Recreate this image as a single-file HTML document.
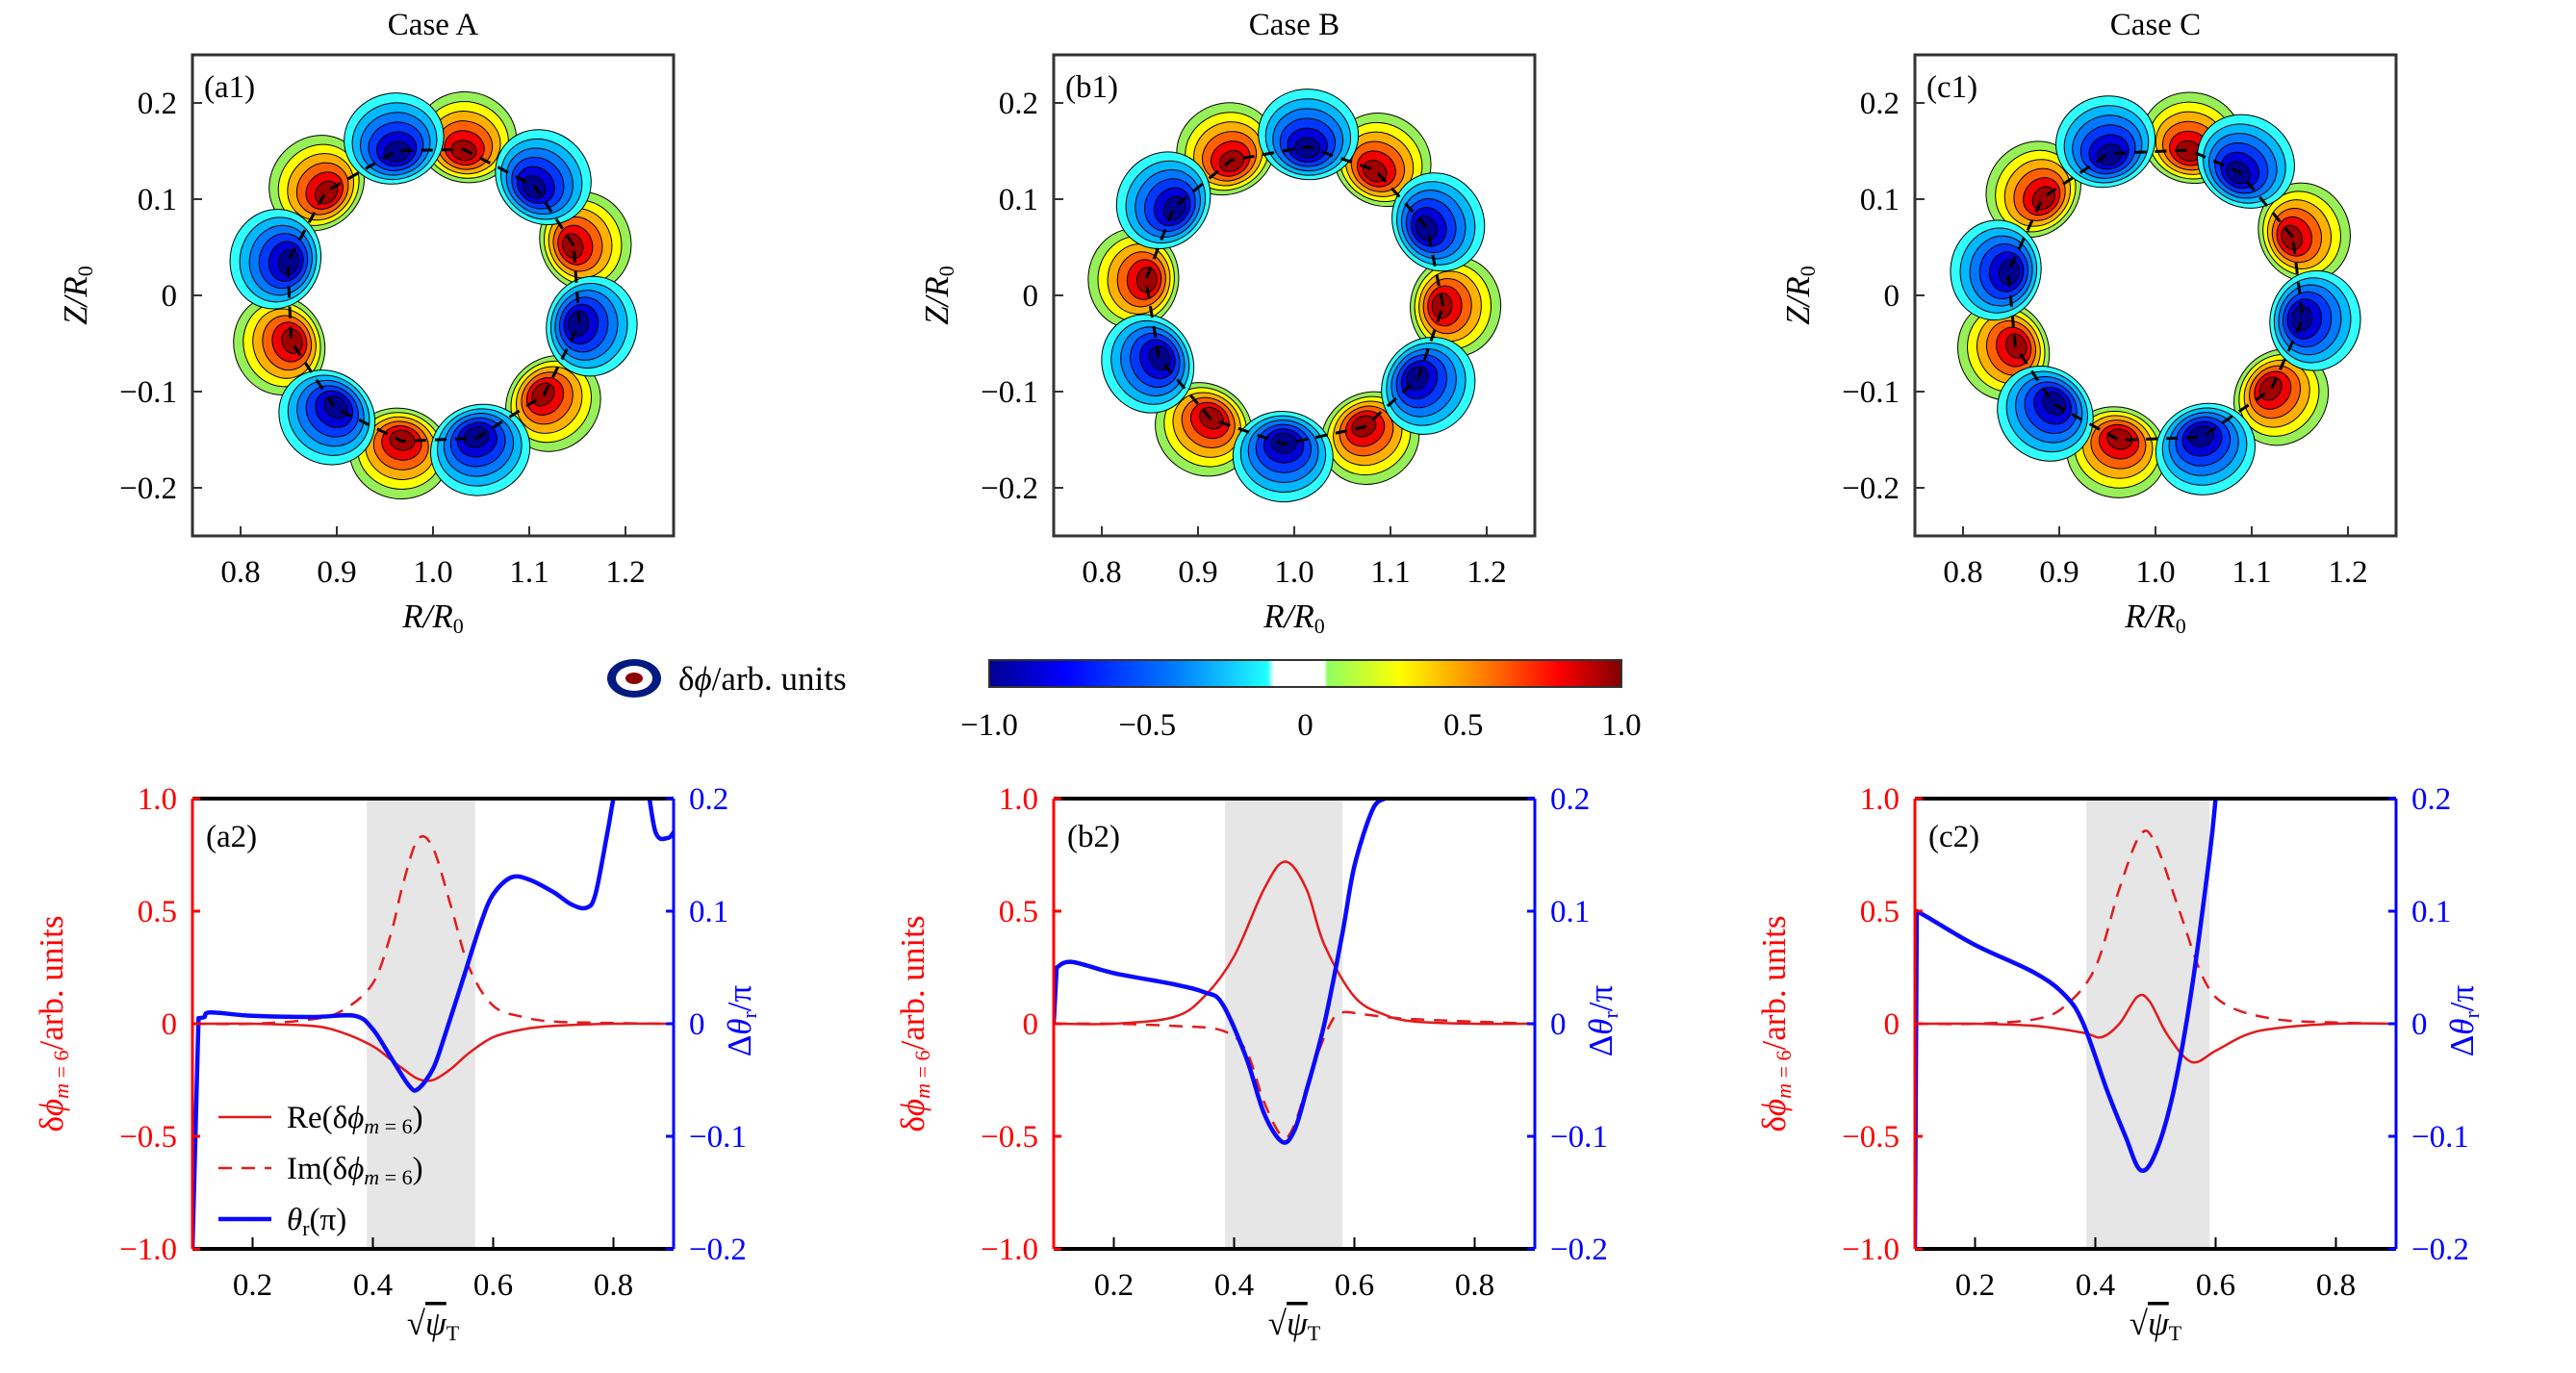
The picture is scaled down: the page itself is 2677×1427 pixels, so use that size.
<!DOCTYPE html>
<html><head><meta charset="utf-8"><style>
html,body{margin:0;padding:0;background:#fff}
svg{display:block}
text{font-family:"Liberation Serif",serif}
</style></head><body>
<svg id="fig" width="2677" height="1427" viewBox="0 0 2677 1427" xmlns="http://www.w3.org/2000/svg">
<defs>
<linearGradient id="jet" x1="0" x2="1" y1="0" y2="0">
<stop offset="0" stop-color="#00008f"/><stop offset="0.12" stop-color="#0000ff"/>
<stop offset="0.3" stop-color="#0080ff"/><stop offset="0.44" stop-color="#20ffff"/>
<stop offset="0.45" stop-color="#ffffff"/><stop offset="0.53" stop-color="#ffffff"/>
<stop offset="0.535" stop-color="#90ff60"/><stop offset="0.65" stop-color="#ffff00"/>
<stop offset="0.78" stop-color="#ff8000"/><stop offset="0.9" stop-color="#ff0000"/>
<stop offset="1" stop-color="#800000"/></linearGradient>
</defs>
</svg>
<script>
// ---- data ----
const caseTitles = ["Case A","Case B","Case C"];
const topLabels = ["(a1)","(b1)","(c1)"];
const botLabels = ["(a2)","(b2)","(c2)"];
const redAnglesA = [19.5,78,136,198,258,318];
const redAnglesB = [-4,57,115,174,236,298];
const redAnglesC = [23,77,139,200,256,321];
const blueAnglesA = [47,104,167,229,287,349];
const blueAnglesB = [27,85,144,205,266,326];
const blueAnglesC = [56,108,171,227,288,351];
const xTicksTop = [0.8,0.9,1.0,1.1,1.2];
const yTicksTop = [0.2,0.1,0,-0.1,-0.2];
const xTicksBot = [0.2,0.4,0.6,0.8];
const yTicksLeft = [1.0,0.5,0,-0.5,-1.0];
const yTicksRight = [0.2,0.1,0,-0.1,-0.2];
const cbTicks = [-1.0,-0.5,0,0.5,1.0];
const shadeA = [0.39,0.57], shadeB = [0.385,0.58], shadeC = [0.385,0.59];
const xA  = [0.1,0.2,0.3,0.35,0.4,0.43,0.45,0.475,0.5,0.53,0.56,0.6,0.65,0.7,0.8,0.9];
const reA = [0,0,-0.01,-0.04,-0.1,-0.16,-0.2,-0.245,-0.25,-0.2,-0.13,-0.06,-0.025,-0.01,0,0];
const imA = [0,0,0.02,0.06,0.18,0.4,0.62,0.82,0.78,0.52,0.25,0.08,0.03,0.01,0.003,0];
const thXA = [0.1,0.11,0.12,0.13,0.2,0.3,0.37,0.4,0.43,0.46,0.475,0.5,0.52,0.55,0.58,0.6,0.63,0.66,0.7,0.73,0.755,0.77,0.79,0.8,0.81,0.85,0.87,0.89,0.9];
const thA = [-0.2,0.005,0.006,0.01,0.007,0.006,0.007,-0.005,-0.03,-0.055,-0.058,-0.04,-0.01,0.04,0.09,0.115,0.13,0.128,0.117,0.106,0.103,0.115,0.17,0.2,0.22,0.22,0.17,0.165,0.17];
const xB  = [0.1,0.2,0.3,0.35,0.4,0.45,0.485,0.52,0.55,0.6,0.65,0.7,0.8,0.9];
const reB = [0,0,0.03,0.12,0.3,0.6,0.72,0.6,0.35,0.12,0.04,0.01,0,0];
const xB2 = [0.1,0.2,0.3,0.38,0.42,0.45,0.48,0.5,0.53,0.56,0.58,0.62,0.7,0.9];
const imB = [0,0,-0.01,-0.03,-0.12,-0.35,-0.5,-0.45,-0.2,0,0.05,0.04,0.02,0];
const thXB = [0.1,0.105,0.13,0.2,0.3,0.35,0.38,0.42,0.45,0.48,0.5,0.52,0.55,0.58,0.6,0.63,0.65];
const thB = [0,0.05,0.055,0.045,0.035,0.028,0.018,-0.03,-0.08,-0.105,-0.095,-0.06,0,0.08,0.14,0.19,0.2];
const xC  = [0.1,0.2,0.3,0.38,0.41,0.44,0.47,0.49,0.52,0.56,0.6,0.65,0.7,0.8,0.9];
const reC = [0,0,-0.01,-0.04,-0.06,0,0.12,0.1,-0.05,-0.17,-0.12,-0.05,-0.02,0,0];
const xC2 = [0.1,0.2,0.3,0.35,0.4,0.44,0.475,0.5,0.54,0.58,0.62,0.7,0.8,0.9];
const imC = [0,0,0.02,0.08,0.25,0.6,0.84,0.8,0.5,0.2,0.08,0.02,0.005,0];
const thXC = [0.1,0.103,0.12,0.2,0.3,0.35,0.38,0.42,0.45,0.475,0.5,0.53,0.56,0.59,0.6];
const thC = [-0.2,0.1,0.095,0.07,0.045,0.025,0,-0.06,-0.1,-0.13,-0.115,-0.06,0.03,0.15,0.2];

const NS="http://www.w3.org/2000/svg";
const svg=document.getElementById('fig');
function mk(tag,attrs,parent){const e=document.createElementNS(NS,tag);for(const k in attrs)e.setAttribute(k,attrs[k]);(parent||svg).appendChild(e);return e;}
function fmt(v,d){const s=v===0?"0":v.toFixed(d);return s.replace('-','\u2212');}
// first segment straight (vertical jump at the axis), rest Catmull-Rom
function smooth(pts,straightFirst){
  let d='M'+pts[0][0].toFixed(1)+' '+pts[0][1].toFixed(1);
  let start=0;
  if(straightFirst){d+='L'+pts[1][0].toFixed(1)+' '+pts[1][1].toFixed(1);start=1;}
  for(let i=start;i<pts.length-1;i++){
    const p0=pts[Math.max(i-1,start)],p1=pts[i],p2=pts[i+1],p3=pts[Math.min(i+2,pts.length-1)];
    const c1=[p1[0]+(p2[0]-p0[0])/6,p1[1]+(p2[1]-p0[1])/6],c2=[p2[0]-(p3[0]-p1[0])/6,p2[1]-(p3[1]-p1[1])/6];
    d+=`C${c1[0].toFixed(1)} ${c1[1].toFixed(1)} ${c2[0].toFixed(1)} ${c2[1].toFixed(1)} ${p2[0].toFixed(1)} ${p2[1].toFixed(1)}`;
  }
  return d;
}

const lefts=[200,1095,1990];
const FS=33;
const redSets=[redAnglesA,redAnglesB,redAnglesC], blueSets=[blueAnglesA,blueAnglesB,blueAnglesC];
const redCols=["#98f058","#ffff00","#ffb000","#ff6000","#f00000","#a00000"];
const blueCols=["#30ffff","#00b8ff","#0078ff","#0038ff","#0000d8","#00008f"];

// ---- top panels ----
for(let p=0;p<3;p++){
  const L=lefts[p],T=57,W=500;
  const px=r=>L+(r-0.75)*1000, py=z=>T+(0.25-z)*1000;
  const g=mk('g',{});
  
  
  const t=mk('text',{x:L+250,y:36,'font-size':FS,'text-anchor':'middle'},g);t.textContent=caseTitles[p];
  
  
  const lobes=[];
  redSets[p].forEach(a=>lobes.push([a,redCols]));
  blueSets[p].forEach(a=>lobes.push([a,blueCols]));
  const peaks=[];
  lobes.forEach(([a,cols])=>{
    const rad=a*Math.PI/180;
    const lg=mk('g',{},g);
    
    
    for(let i=0;i<6;i++){
      const f=i/5;
      const u=0.168-0.014*f, au=0.047*(1-0.78*f), av=0.052*(1-0.75*f);
      const cx=px(1+u*Math.cos(rad)), cy=py(u*Math.sin(rad));
      const el=mk('ellipse',{cx:cx,cy:cy,rx:au*1000,ry:av*1000,fill:cols[i],stroke:'#000','stroke-width':1,transform:`rotate(${-a} ${cx} ${cy})`},lg);
      
      
    }
    peaks.push([a,0.155]);
  });
  peaks.sort((x,y)=>x[0]-y[0]);
  let d='';peaks.concat([peaks[0]]).forEach((q,i)=>{const r=q[0]*Math.PI/180;d+=(i?'L':'M')+px(1+q[1]*Math.cos(r))+' '+py(q[1]*Math.sin(r));});
  const dl=mk('path',{d:d,fill:'none',stroke:'#000','stroke-width':3,'stroke-dasharray':'12 9'},g);
  
  
  const box=mk('rect',{x:L,y:T,width:W,height:W,fill:'none',stroke:'#333','stroke-width':3},g);
  
  
  xTicksTop.forEach(v=>{mk('line',{x1:px(v),x2:px(v),y1:T+W,y2:T+W-10,stroke:'#333','stroke-width':2},g);
    const tx=mk('text',{x:px(v),y:T+W+48,'font-size':FS,'text-anchor':'middle'},g);tx.textContent=v.toFixed(1);
    
    });
  yTicksTop.forEach(v=>{mk('line',{x1:L,x2:L+10,y1:py(v),y2:py(v),stroke:'#333','stroke-width':2},g);
    const tx=mk('text',{x:L-16,y:py(v)+11,'font-size':FS,'text-anchor':'end'},g);tx.textContent=fmt(v,1);
    
    });
  const pl=mk('text',{x:L+12,y:T+44,'font-size':FS},g);pl.textContent=topLabels[p];
  
  
  const xl=mk('text',{x:L+250,y:652,'font-size':FS+2,'text-anchor':'middle','font-style':'italic'},g);
  xl.innerHTML='R/R<tspan font-style="normal" font-size="22" dy="6">0</tspan>';
  
  
  const yl=mk('text',{x:0,y:0,'font-size':FS+2,'text-anchor':'middle','font-style':'italic',transform:`translate(${L-110},${py(0)}) rotate(-90)`},g);
  yl.innerHTML='Z/R<tspan font-style="normal" font-size="22" dy="6">0</tspan>';
  
  
}

// ---- colorbar ----
const cbg=mk('g',{});


const CL=1028,CW=657,CT=686,CH=28;
mk('rect',{x:CL,y:CT,width:CW,height:CH,fill:'url(#jet)',stroke:'#333','stroke-width':2},cbg);
cbTicks.forEach(v=>{const x=CL+(v+1)/2*CW;
  const tx=mk('text',{x:x,y:764,'font-size':FS,'text-anchor':'middle'},cbg);tx.textContent=fmt(v,1);
  
  });
const icon=mk('g',{},cbg);


mk('ellipse',{cx:659,cy:705,rx:28,ry:20,fill:'#001a80'},icon);
mk('ellipse',{cx:659,cy:705,rx:19,ry:13,fill:'#fff'},icon);
mk('ellipse',{cx:659,cy:705,rx:9,ry:6,fill:'#8b0000'},icon);
const cbl=mk('text',{x:705,y:717,'font-size':FS+2},cbg);
cbl.innerHTML='δ<tspan font-style="italic">ϕ</tspan>/arb. units';



// ---- bottom panels ----
const bx=[[xA,reA,xA,imA,thXA,thA,shadeA],[xB,reB,xB2,imB,thXB,thB,shadeB],[xC,reC,xC2,imC,thXC,thC,shadeC]];
for(let p=0;p<3;p++){
  const L=lefts[p],T=830,W=500,H=468;
  const sx=x=>L+(x-0.1)/0.8*W, syL=v=>T+(1-v)/2*H, syR=v=>T+(0.2-v)/0.4*H;
  const [x1,re,x2,im,xt,th,sh]=bx[p];
  const g=mk('g',{});
  
  
  const cid='clip'+p;
  const cp=mk('clipPath',{id:cid},g);mk('rect',{x:L,y:T,width:W,height:H},cp);
  const s=mk('rect',{x:sx(sh[0]),y:T,width:sx(sh[1])-sx(sh[0]),height:H,fill:'#e6e6e6'},g);
  
  
  const line=(xs,ys,sy,col,w,dash,name,sf)=>{
    const d=smooth(xs.map((x,i)=>[sx(x),sy(ys[i])]),sf);
    const e=mk('path',{d:d,fill:'none',stroke:col,'stroke-width':w,'stroke-linejoin':'round','clip-path':`url(#${cid})`},g);
    if(dash)e.setAttribute('stroke-dasharray',dash);
    
    
  };
  line(x1,re,syL,'#e31a1c',2.5,null,'re-series-line',false);
  line(x2,im,syL,'#e31a1c',2.5,'14 10','im-series-line',false);
  line(xt,th,syR,'#0a0aff',4.5,null,'theta-series-line',true);
  mk('line',{x1:L,x2:L+W,y1:T,y2:T,stroke:'#000','stroke-width':4},g);
  mk('line',{x1:L,x2:L+W,y1:T+H,y2:T+H,stroke:'#000','stroke-width':4},g);
  mk('line',{x1:L,x2:L,y1:T,y2:T+H,stroke:'#f00','stroke-width':3},g);
  mk('line',{x1:L+W,x2:L+W,y1:T,y2:T+H,stroke:'#00f','stroke-width':3},g);
  xTicksBot.forEach(v=>{mk('line',{x1:sx(v),x2:sx(v),y1:T+H,y2:T+H-12,stroke:'#000','stroke-width':2},g);
    const tx=mk('text',{x:sx(v),y:T+H+48,'font-size':FS,'text-anchor':'middle'},g);tx.textContent=v.toFixed(1);
    
    });
  yTicksLeft.forEach(v=>{mk('line',{x1:L,x2:L+8,y1:syL(v),y2:syL(v),stroke:'#f00','stroke-width':3},g);
    const tx=mk('text',{x:L-16,y:syL(v)+11,'font-size':FS,'text-anchor':'end',fill:'#f00'},g);tx.textContent=fmt(v,1);
    
    });
  yTicksRight.forEach(v=>{mk('line',{x1:L+W,x2:L+W-8,y1:syR(v),y2:syR(v),stroke:'#00f','stroke-width':3},g);
    const tx=mk('text',{x:L+W+16,y:syR(v)+11,'font-size':FS,'text-anchor':'start',fill:'#00f'},g);tx.textContent=fmt(v,1);
    
    });
  const pl=mk('text',{x:L+14,y:T+50,'font-size':FS},g);pl.textContent=botLabels[p];
  
  
  const xl=mk('text',{x:L+250,y:1387,'font-size':FS+2,'text-anchor':'middle'},g);
  xl.innerHTML='√<tspan font-style="italic" text-decoration="overline">ψ</tspan><tspan font-size="22" dy="6">T</tspan>';
  
  
  const yl=mk('text',{x:0,y:0,'font-size':FS+2,'text-anchor':'middle',fill:'#f00',transform:`translate(${L-135},${T+H/2}) rotate(-90)`},g);
  yl.innerHTML='δ<tspan font-style="italic">ϕ</tspan><tspan font-size="22" dy="6" font-style="italic">m</tspan><tspan font-size="22"> = 6</tspan><tspan dy="-6">/arb. units</tspan>';
  
  
  const yr=mk('text',{x:0,y:0,'font-size':FS+2,'text-anchor':'middle',fill:'#00f',transform:`translate(${L+W+80},${T+H/2-3}) rotate(-90)`},g);
  yr.innerHTML='Δ<tspan font-style="italic">θ</tspan><tspan font-size="22" dy="6">r</tspan><tspan dy="-6">/π</tspan>';
  
  
  if(p===0){
    const lg=mk('g',{},g);
    
    
    const items=[['#e31a1c',2.5,null,'Re(δ<tspan font-style="italic">ϕ</tspan><tspan font-size="22" dy="6"><tspan font-style="italic">m</tspan> = 6</tspan><tspan dy="-6">)</tspan>'],
      ['#e31a1c',2.5,'14 10','Im(δ<tspan font-style="italic">ϕ</tspan><tspan font-size="22" dy="6"><tspan font-style="italic">m</tspan> = 6</tspan><tspan dy="-6">)</tspan>'],
      ['#0a0aff',4.5,null,'<tspan font-style="italic">θ</tspan><tspan font-size="22" dy="6">r</tspan><tspan dy="-6">(π)</tspan>']];
    items.forEach((it,i)=>{const y=1161+i*53;
      const ln=mk('line',{x1:227,x2:282,y1:y,y2:y,stroke:it[0],'stroke-width':it[1]},lg);
      if(it[2])ln.setAttribute('stroke-dasharray',it[2]);
      const tx=mk('text',{x:298,y:y+11,'font-size':FS},lg);tx.innerHTML=it[3];
      
      });
  }
}
</script>
</body></html>
